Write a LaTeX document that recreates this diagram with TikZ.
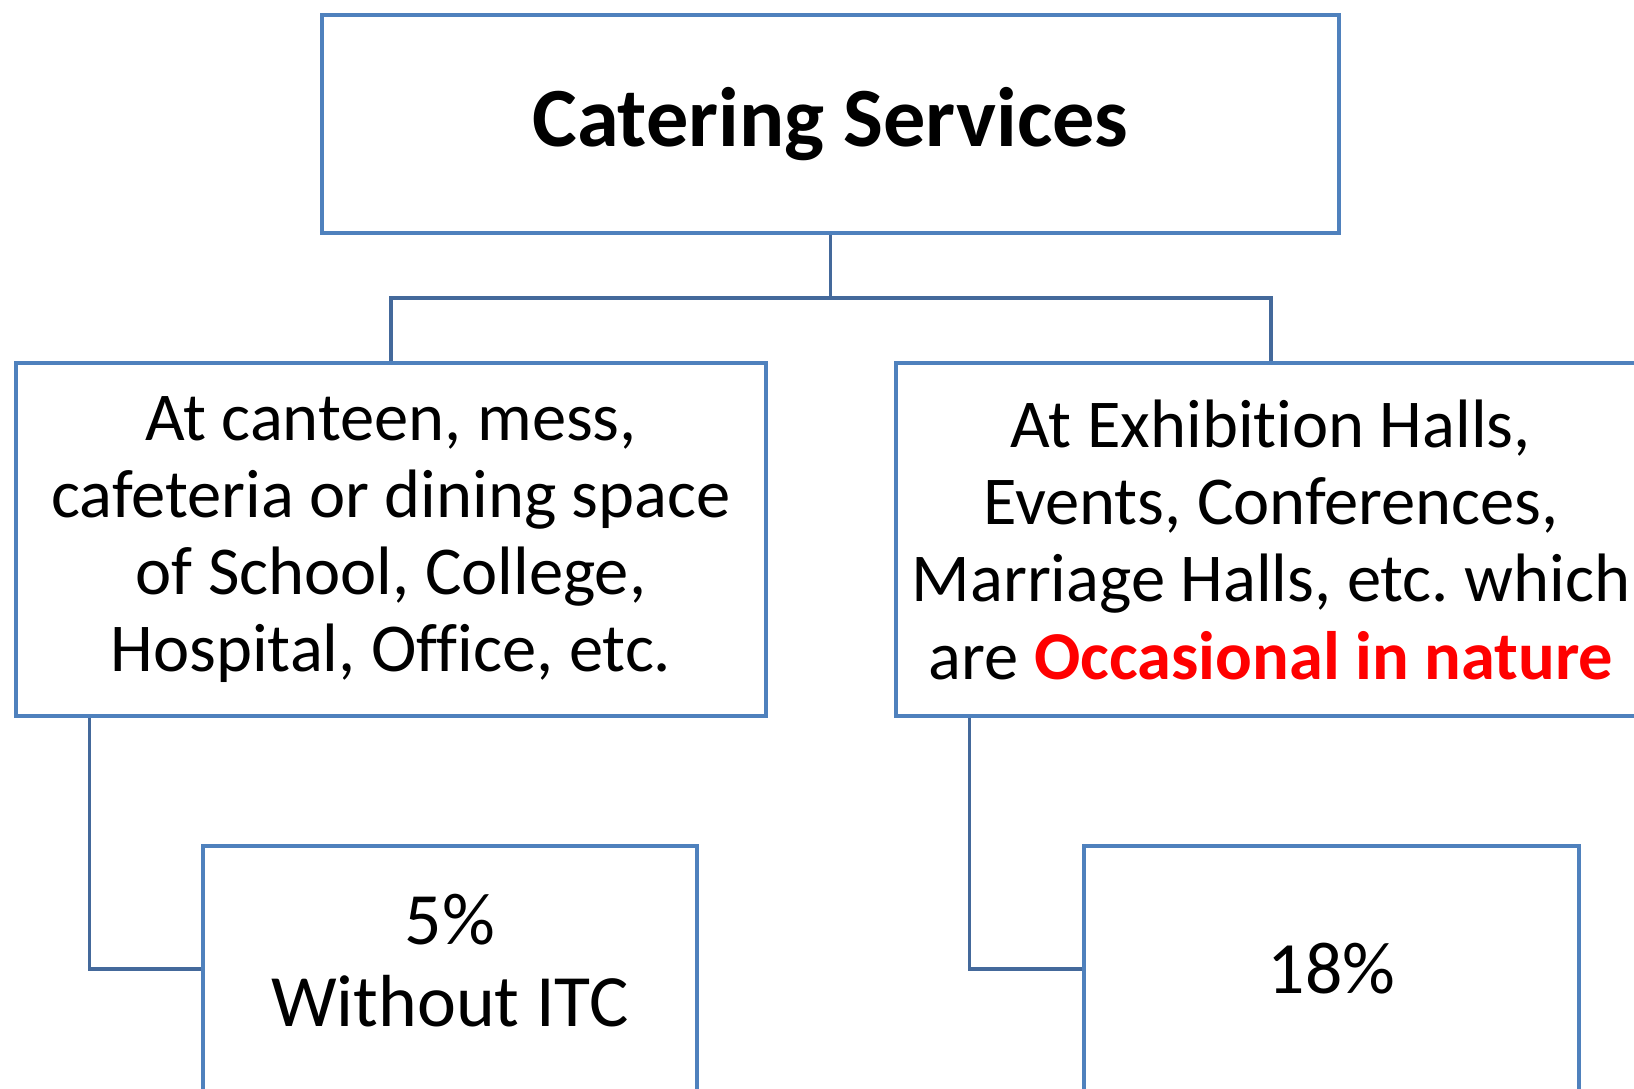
\documentclass[tikz,border=0pt]{standalone}
\usepackage{fontspec}
\setmainfont{Carlito}[Ligatures=NoCommon]
\usetikzlibrary{positioning}
\frenchspacing

\definecolor{boxblue}{HTML}{4F81BD}
\definecolor{linkblue}{HTML}{44699B}
\tikzset{
  box/.style={draw=boxblue, line width=2.2pt, align=center, inner sep=0pt, fill=white},
  link/.style={draw=linkblue, line width=1.8pt},
  midtext/.style={font=\fontsize{39}{44}\selectfont},
  lowtext/.style={font=\fontsize{42}{47}\selectfont},
}

\begin{document}
\begin{tikzpicture}[x=0.02cm, y=-0.02cm]
  \useasboundingbox (0,0) rectangle (1634,1089);
  \clip (0,0) rectangle (1634,1089);

  \node[box, minimum width=20.34cm, minimum height=4.36cm,
        font=\fontsize{48}{54}\selectfont\bfseries] (catering) at (830.5,124)
    {\raisebox{2pt}{Catering Services}};
  \node[box, midtext, minimum width=15cm, minimum height=7.06cm] (canteen) at (391,539.5)
    {At canteen, mess,\\cafeteria or dining space\\of School, College,\\Hospital, Office, etc.};
  \node[box, midtext, minimum width=15cm, minimum height=7.06cm] (events) at (1271,539.5)
    {At Exhibition Halls,\\Events, Conferences,\\Marriage Halls, etc.\ which\\are {\color{red}\bfseries Occasional in nature}};
  \node[box, lowtext, minimum width=9.88cm, minimum height=4.92cm] (five) at (450,969)
    {\raisebox{4.5pt}{\begin{tabular}{@{}c@{}}5\%\\Without ITC\end{tabular}}};
  \node[box, lowtext, minimum width=9.9cm, minimum height=4.92cm] (eighteen) at (1331.5,969)
    {18\%};

  \coordinate (bar) at (830.5,298);
  \path[link] (catering.south) edge (bar);
  \draw[link] (canteen.north) |- (bar) -| (events.north);
  \draw[link] ([xshift=1.5cm]canteen.south west) |- (five.west);
  \draw[link] ([xshift=1.5cm]events.south west) |- (eighteen.west);

\end{tikzpicture}
\end{document}
